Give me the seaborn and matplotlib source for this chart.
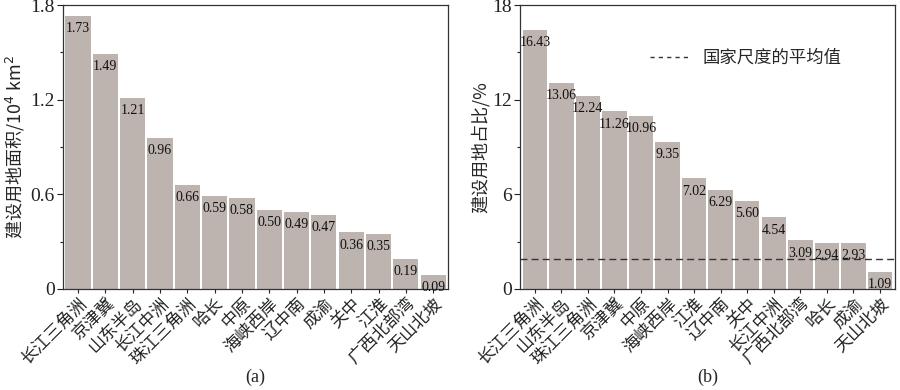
import matplotlib
matplotlib.use("Agg")
import matplotlib.pyplot as plt
import seaborn as sns
import pandas as pd
from matplotlib.ticker import MultipleLocator
from matplotlib.lines import Line2D

sns.set_theme(style="ticks")
plt.rcParams['font.family'] = ['Liberation Serif', 'Noto Sans CJK SC', 'DejaVu Sans']
plt.rcParams['axes.unicode_minus'] = False

regions_a = ["长江三角洲", "京津冀", "山东半岛", "长江中洲", "珠江三角洲", "哈长", "中原",
             "海峡西岸", "辽中南", "成渝", "关中", "江淮", "广西北部湾", "天山北坡"]
area_a = [1.73, 1.49, 1.21, 0.96, 0.66, 0.59, 0.58, 0.50, 0.49, 0.47, 0.36, 0.35, 0.19, 0.09]

regions_b = ["长江三角洲", "山东半岛", "珠江三角洲", "京津冀", "中原", "海峡西岸", "江淮",
             "辽中南", "关中", "长江中洲", "广西北部湾", "哈长", "成渝", "天山北坡"]
share_b = [16.43, 13.06, 12.24, 11.26, 10.96, 9.35, 7.02, 6.29, 5.60, 4.54, 3.09, 2.94, 2.93, 1.09]
national_avg = 1.9

bar_color = "#bdb4b0"

fig = plt.figure(figsize=(9, 3.9), dpi=100)
ax1 = fig.add_axes([0.070, 0.259, 0.428, 0.728])
ax2 = fig.add_axes([0.578, 0.259, 0.416, 0.728])

df_a = pd.DataFrame({"region": regions_a, "value": area_a})
df_b = pd.DataFrame({"region": regions_b, "value": share_b})

def draw(ax, df, ymax, major, minor, ylabel, fmt_off):
    sns.barplot(data=df, x="region", y="value", color=bar_color, width=0.92,
                saturation=1, ax=ax, edgecolor="none")
    ax.set_ylim(0, ymax)
    ax.set_xlim(-0.55, len(df) - 0.45)
    ax.yaxis.set_major_locator(MultipleLocator(major))
    ax.yaxis.set_minor_locator(MultipleLocator(minor))
    ax.yaxis.set_major_formatter(plt.FuncFormatter(lambda v, p: f"{v:g}"))
    for s in ax.spines.values():
        s.set_visible(True)
        s.set_color("#333333")
        s.set_linewidth(0.9)
    ax.tick_params(axis="y", which="major", length=4, width=0.8, labelsize=14, pad=2, colors="#222222")
    ax.tick_params(axis="y", which="minor", length=2.5, width=0.8, colors="#222222")
    ax.tick_params(axis="x", length=3, width=0.8, pad=1, colors="#222222")
    ax.set_xticks(range(len(df)))
    ax.set_xticklabels(df["region"], rotation=45, ha="right", rotation_mode="anchor",
                       fontsize=12.3, family=['Noto Sans CJK SC'])
    ax.set_xlabel("")
    ax.set_ylabel(ylabel, fontsize=13, family=['Noto Sans CJK SC', 'DejaVu Sans'], labelpad=2)
    for i, v in enumerate(df["value"]):
        ax.text(i, v - fmt_off, f"{v:.2f}", ha="center", va="top", fontsize=10, color="#111111")

draw(ax1, df_a, 1.8, 0.6, 0.3, "建设用地面积/10$^4$ km$^2$", 0.04)
draw(ax2, df_b, 18, 6, 3, "建设用地占比/%", 0.4)

ax2.axhline(national_avg, color="#333333", linestyle=(0, (5, 3)), linewidth=1)
handle = Line2D([], [], color="#333333", linestyle=(0, (3, 3)), linewidth=1)
ax2.legend([handle], ["国家尺度的平均值"], loc="upper right", frameon=False,
           prop={"family": "Noto Sans CJK SC", "size": 12.5}, handlelength=2.2,
           bbox_to_anchor=(0.9, 0.9))

fig.text(0.284, 0.02, "(a)", ha="center", fontsize=13)
fig.text(0.786, 0.02, "(b)", ha="center", fontsize=13)

fig.savefig("out.png", dpi=100)
